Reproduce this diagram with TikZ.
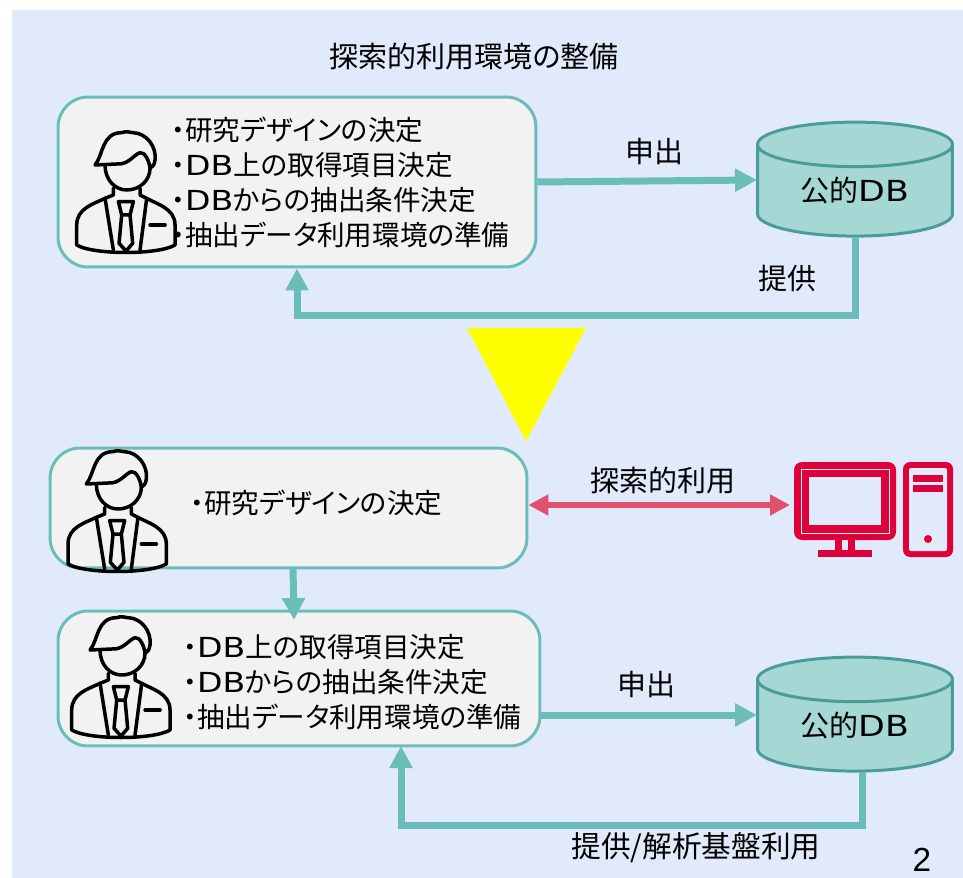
\documentclass[tikz,border=0pt]{standalone}
\usepackage{fontspec}
\setmainfont[RawFeature=+palt]{Noto Sans CJK JP}
\newfontfamily\latinfont[FakeStretch=1.2]{DejaVu Sans}
\newfontfamily\pagefont{Liberation Sans}
\newcommand{\dbname}{{\latinfont DB}}
\usetikzlibrary{arrows.meta,shapes.geometric}
\definecolor{bgblue}{HTML}{E1EAFB}
\definecolor{tealline}{HTML}{6ABDB9}
\definecolor{boxfill}{HTML}{F2F2F2}
\definecolor{dbfill}{HTML}{A5D8D5}
\definecolor{dbline}{HTML}{4B9C97}
\definecolor{pinkline}{HTML}{E0516F}
\definecolor{pcred}{HTML}{DE003B}
\definecolor{warnyellow}{HTML}{FFFF00}
\tikzset{
  pics/person/.style={code={
    \begin{scope}[scale=1/3, line width=0.07cm, line join=round, line cap=round, draw=black]
      \draw (-95,-75) .. controls (-70,-105) and (-75,-172) .. (-15,-172)
        .. controls (0,-178) and (10,-172) .. (20,-172)
        .. controls (60,-170) and (90,-130) .. (85,-90)
        .. controls (83,-75) and (78,-70) .. (70,-65)
        .. controls (68,-85) and (55,-115) .. (40,-112)
        .. controls (20,-105) and (5,-75) .. (-30,-78) -- cycle;
      \draw (-65,-75) .. controls (-65,-30) and (-35,0) .. (0,0)
        .. controls (40,0) and (70,-30) .. (70,-65);
      \draw (-40,-5) -- (-40,15) -- (-65,25) .. controls (-100,42) and (-150,55) .. (-150,105)
        -- (-150,165) .. controls (-100,195) and (95,195) .. (145,165)
        -- (145,105) .. controls (145,55) and (90,42) .. (60,25) -- (40,15) -- (40,-5);
      \draw (-65,25) -- (-40,180);
      \draw (60,25) -- (40,180);
      \draw (-25,35) -- (20,35) -- (10,75) -- (-15,75) -- cycle;
      \draw (-15,75) -- (-23,160) -- (-2,183) -- (18,160) -- (10,75);
      \draw (70,105) -- (115,105);
    \end{scope}
  }},
  roundbox/.style={draw=tealline, fill=boxfill, line width=0.06cm, rounded corners=0.6cm, inner sep=0pt},
  dbnode/.style={cylinder, shape border rotate=90, shape aspect=0.41, draw=dbline, fill=dbfill, line width=0.06cm,
    minimum width=3.9cm, minimum height=2.28cm, inner sep=0pt, font=\fontsize{16.5pt}{18pt}\selectfont},
  listtext/.style={align=left, anchor=west, inner sep=0pt, font=\fontsize{15.7pt}{19.9pt}\selectfont},
  labeltext/.style={inner sep=0pt, font=\fontsize{16.5pt}{18pt}\selectfont},
  tealarrow/.style={draw=tealline, line width=0.14cm, -{Triangle[length=0.44cm,width=0.44cm]}},
  pinkarrow/.style={draw=pinkline, line width=0.12cm, {Triangle[length=0.4cm,width=0.4cm]}-{Triangle[length=0.4cm,width=0.4cm]}}
}
\begin{document}
\begin{tikzpicture}[x=0.02cm, y=-0.02cm]
  \useasboundingbox (0,0) rectangle (963,878);
  \fill[bgblue] (12,10) rectangle (963,878);

  \node[labeltext] (title) at (474,57) {探索的利用環境の整備};

  \node[roundbox, minimum width=9.56cm, minimum height=3.4cm] (box1) at (297,182) {};
  \pic at (126.7,190) {person};
  \node[listtext] (list1) at (171,182) {・研究デザインの決定\\・\dbname 上の取得項目決定\\・\dbname からの抽出条件決定\\・抽出データ利用環境の準備};
  \node[dbnode] (db1) at (855,191) {\raisebox{2.3pt}{公的\dbname}};
  \node[labeltext] (ask1) at (654,151) {申出};
  \node[labeltext] (give1) at (787,278) {提供};
  \coordinate (db1in) at (757,180);
  \draw[tealarrow] (box1.east) -- (db1in);
  \draw[tealarrow] (db1.south) -- ++(0,78) -| (box1.south);

  \fill[warnyellow] (467,328) -- (586,328) -- (526,441) -- cycle;

  \node[roundbox, minimum width=9.54cm, minimum height=2.4cm] (box2) at (288.5,508) {};
  \pic at (118,509) {person};
  \node[listtext] (list2) at (190,503) {・研究デザインの決定};
  \node[labeltext] (explore) at (663,480) {探索的利用};
  \coordinate (pcleft) at (790,505);
  \draw[pinkarrow] (box2.east |- pcleft) -- (pcleft);

  \fill[pcred, rounded corners=0.16cm] (794,462) rectangle (896,540);
  \draw[boxfill, line width=0.02cm] (801,469) rectangle (889,533);
  \fill[bgblue] (809,477) rectangle (881,525);
  \fill[pcred] (835,540) rectangle (855,550);
  \fill[bgblue] (842,540) rectangle (848,550);
  \fill[pcred] (818,550) rectangle (872,557);
  \fill[pcred, rounded corners=0.14cm] (903,462) rectangle (953,557);
  \fill[bgblue, rounded corners=0.04cm] (909,468) rectangle (947,551);
  \fill[pcred] (913,475) rectangle (943,482);
  \fill[pcred] (913,485) rectangle (943,492);
  \fill[pcred] (928,539) circle (4);

  \node[roundbox, minimum width=9.64cm, minimum height=2.7cm] (box3) at (299,678.5) {};
  \pic at (121.7,675) {person};
  \node[listtext] (list3) at (183,682) {・\dbname 上の取得項目決定\\・\dbname からの抽出条件決定\\・抽出データ利用環境の準備};
  \node[dbnode] (db2) at (855,726) {\raisebox{2.3pt}{公的\dbname}};
  \node[labeltext] (ask2) at (646,684) {申出};
  \node[labeltext, font=\fontsize{16.9pt}{18pt}\selectfont] (give2) at (696,848) {提供/解析基盤利用};
  \node[inner sep=0pt, font=\pagefont\fontsize{19pt}{21pt}\selectfont] (pageno) at (922,860) {2};
  \coordinate (from2) at (293,568);
  \coordinate (to2) at (294,620);
  \draw[tealarrow] (from2) -- (to2);
  \coordinate (db2in) at (757,715);
  \draw[tealarrow] (box3.east |- db2in) -- (db2in);
  \coordinate (out5) at (862,772);
  \coordinate (in5) at (401,746);
  \draw[tealarrow] (out5) -- ++(0,53) -| (in5);
\end{tikzpicture}
\end{document}
